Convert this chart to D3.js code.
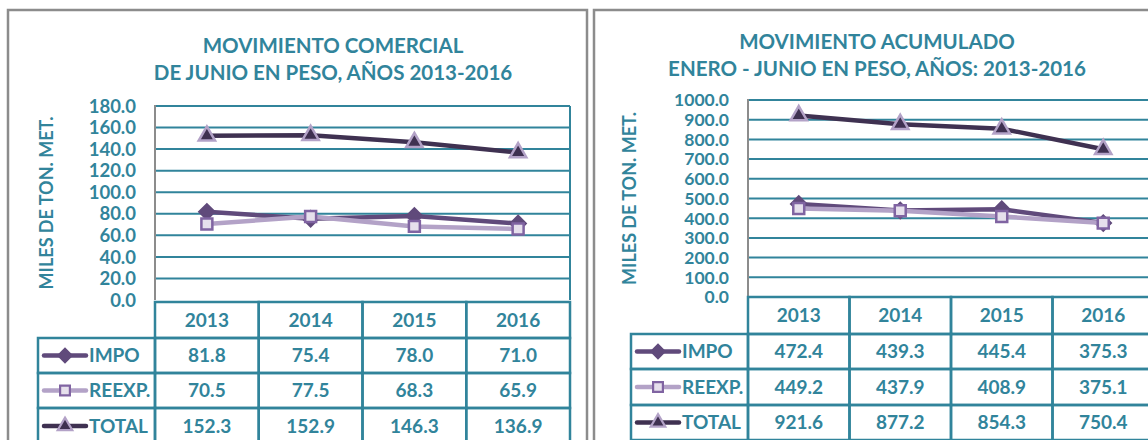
<!DOCTYPE html>
<html lang="es">
<head>
<meta charset="UTF-8">
<title>Movimiento comercial</title>
<style>
  body { margin: 0; background: #fff; }
  svg text { font-family: Lato, "Open Sans", sans-serif; font-weight: bold; }
</style>
</head>
<body>
<script src="https://d3js.org/d3.v7.min.js"></script>
<div id="chart"></div>
<script>
// datos (miles de toneladas metricas)
const years = ["2013", "2014", "2015", "2016"];
const seriesNames = ["IMPO", "REEXP.", "TOTAL"];

const impoMes = [81.8, 75.4, 78.0, 71.0];
const reexpMes = [70.5, 77.5, 68.3, 65.9];
const totalMes = [152.3, 152.9, 146.3, 136.9];

const impoAcum = [472.4, 439.3, 445.4, 375.3];
const reexpAcum = [449.2, 437.9, 408.9, 375.1];
const totalAcum = [921.6, 877.2, 854.3, 750.4];

const ticksMes = [0, 20, 40, 60, 80, 100, 120, 140, 160, 180];
const ticksAcum = [0, 100, 200, 300, 400, 500, 600, 700, 800, 900, 1000];

const teal = "#31849b";
// diamante = cuadrado girado 45 grados
const styles = [
  { line: "#604a7b", fill: "#604a7b", stroke: "#604a7b", shape: d3.symbolSquare, rot: 45, size: 110 },
  { line: "#b3a2c7", fill: "#e6e0ec", stroke: "#8064a2", shape: d3.symbolSquare, rot: 0, size: 120 },
  { line: "#3f3151", fill: "#3f3151", stroke: "#b3a2c7", shape: d3.symbolTriangle, rot: 0, size: 115 }
];

const svg = d3.select("#chart").append("svg")
  .attr("width", 1148).attr("height", 440);

function drawPanel(p) {
  const g = svg.append("g");

  // marco exterior
  g.append("rect")
    .attr("x", p.frame[0]).attr("y", p.frame[1])
    .attr("width", p.frame[2]).attr("height", p.frame[3])
    .attr("fill", "white").attr("stroke", "#8c8c8c").attr("stroke-width", 2.5);

  // titulo
  p.title.forEach((t, i) => {
    g.append("text")
      .attr("x", p.titleX).attr("y", p.titleY + i * 27)
      .attr("text-anchor", "middle")
      .style("font-size", "20.5px").style("fill", teal)
      .text(t);
  });

  const x = d3.scaleBand().domain(years).range([p.left, p.right]);
  const y = d3.scaleLinear().domain([0, p.max]).range([p.bottom, p.top]);

  // lineas de cuadricula
  g.append("g").selectAll("line").data(p.ticks.filter(d => d > 0)).join("line")
    .attr("x1", p.left).attr("x2", p.right)
    .attr("y1", d => y(d)).attr("y2", d => y(d))
    .attr("stroke", teal).attr("stroke-width", 2);
  g.append("line")
    .attr("x1", p.right).attr("x2", p.right).attr("y1", p.top).attr("y2", p.bottom)
    .attr("stroke", teal).attr("stroke-width", 2);
  g.append("line")
    .attr("x1", p.left).attr("x2", p.left).attr("y1", p.top - 1).attr("y2", p.bottom)
    .attr("stroke", "#8c8c8c").attr("stroke-width", 2);

  // eje y
  g.append("g").selectAll("text").data(p.ticks).join("text")
    .attr("x", p.left - 19).attr("y", d => y(d))
    .attr("dy", "0.36em").attr("text-anchor", "end")
    .style("font-size", p.tickSize).style("fill", teal)
    .text(d => d.toFixed(1));

  g.append("text")
    .attr("transform", `translate(${p.yTitleX},${(p.top + p.bottom) / 2}) rotate(-90)`)
    .attr("text-anchor", "middle").attr("dy", "0.36em")
    .style("font-size", "18px").style("fill", teal)
    .text("MILES DE TON. MET.");

  // series
  const line = d3.line().x((d, i) => x(years[i]) + x.bandwidth() / 2).y(d => y(d));
  p.series.forEach((vals, si) => {
    const s = styles[si];
    g.append("path").datum(vals)
      .attr("d", line).attr("fill", "none")
      .attr("stroke", s.line).attr("stroke-width", 4.5).attr("stroke-linejoin", "round");
    g.append("g").selectAll("path").data(vals).join("path")
      .attr("transform", (d, i) => `translate(${x(years[i]) + x.bandwidth() / 2},${y(d)}) rotate(${s.rot})`)
      .attr("d", d3.symbol().type(s.shape).size(s.size))
      .attr("fill", s.fill).attr("stroke", s.stroke).attr("stroke-width", 2.5);
  });

  // tabla de datos
  const tb = g.append("g");
  const rowY = p.rows;
  const cellStyle = sel => sel.attr("fill", "none").attr("stroke", teal).attr("stroke-width", 2.5);
  // fila de encabezado
  years.forEach(yr => {
    tb.append("rect").call(cellStyle)
      .attr("x", x(yr)).attr("y", rowY[0]).attr("width", x.bandwidth()).attr("height", rowY[1] - rowY[0]);
    tb.append("text")
      .attr("x", x(yr) + x.bandwidth() / 2).attr("y", (rowY[0] + rowY[1]) / 2)
      .attr("dy", "0.36em").attr("text-anchor", "middle")
      .style("font-size", "19px").style("fill", teal)
      .text(yr);
  });
  p.series.forEach((vals, si) => {
    const y0 = rowY[si + 1], y1 = rowY[si + 2];
    const cy = (y0 + y1) / 2;
    tb.append("rect").call(cellStyle)
      .attr("x", p.legendLeft).attr("y", y0).attr("width", p.left - p.legendLeft).attr("height", y1 - y0);
    const s = styles[si];
    tb.append("line")
      .attr("x1", p.legendLeft + 6).attr("x2", p.legendLeft + 48)
      .attr("y1", cy).attr("y2", cy)
      .attr("stroke", s.line).attr("stroke-width", 4.5).attr("stroke-linecap", "round");
    tb.append("path")
      .attr("transform", `translate(${p.legendLeft + 27},${cy}) rotate(${s.rot})`)
      .attr("d", d3.symbol().type(s.shape).size(s.size * 0.8))
      .attr("fill", s.fill).attr("stroke", s.stroke).attr("stroke-width", 2.2);
    tb.append("text")
      .attr("x", p.legendLeft + 51).attr("y", cy).attr("dy", "0.36em")
      .style("font-size", "19px").style("fill", teal)
      .text(seriesNames[si]);
    vals.forEach((v, i) => {
      tb.append("rect").call(cellStyle)
        .attr("x", x(years[i])).attr("y", y0).attr("width", x.bandwidth()).attr("height", y1 - y0);
      tb.append("text")
        .attr("x", x(years[i]) + x.bandwidth() / 2).attr("y", cy)
        .attr("dy", "0.36em").attr("text-anchor", "middle")
        .style("font-size", "19px").style("fill", teal)
        .text(v.toFixed(1));
    });
  });
}

drawPanel({
  frame: [8, 10, 579, 450],
  title: ["MOVIMIENTO COMERCIAL", "DE JUNIO EN PESO, AÑOS 2013-2016"],
  titleX: 333, titleY: 53,
  left: 155, right: 570, top: 106, bottom: 300,
  max: 180, ticks: ticksMes, tickSize: "18.5px", yTitleX: 47,
  legendLeft: 38,
  rows: [302, 338, 373, 408, 444],
  series: [impoMes, reexpMes, totalMes]
});

drawPanel({
  frame: [594, 10, 580, 450],
  title: ["MOVIMIENTO ACUMULADO", "ENERO - JUNIO EN PESO, AÑOS: 2013-2016"],
  titleX: 877, titleY: 49,
  left: 748, right: 1154, top: 100, bottom: 297,
  max: 1000, ticks: ticksAcum, tickSize: "17.5px", yTitleX: 630,
  legendLeft: 631,
  rows: [297, 334, 369, 405, 440],
  series: [impoAcum, reexpAcum, totalAcum]
});
</script>
</body>
</html>
